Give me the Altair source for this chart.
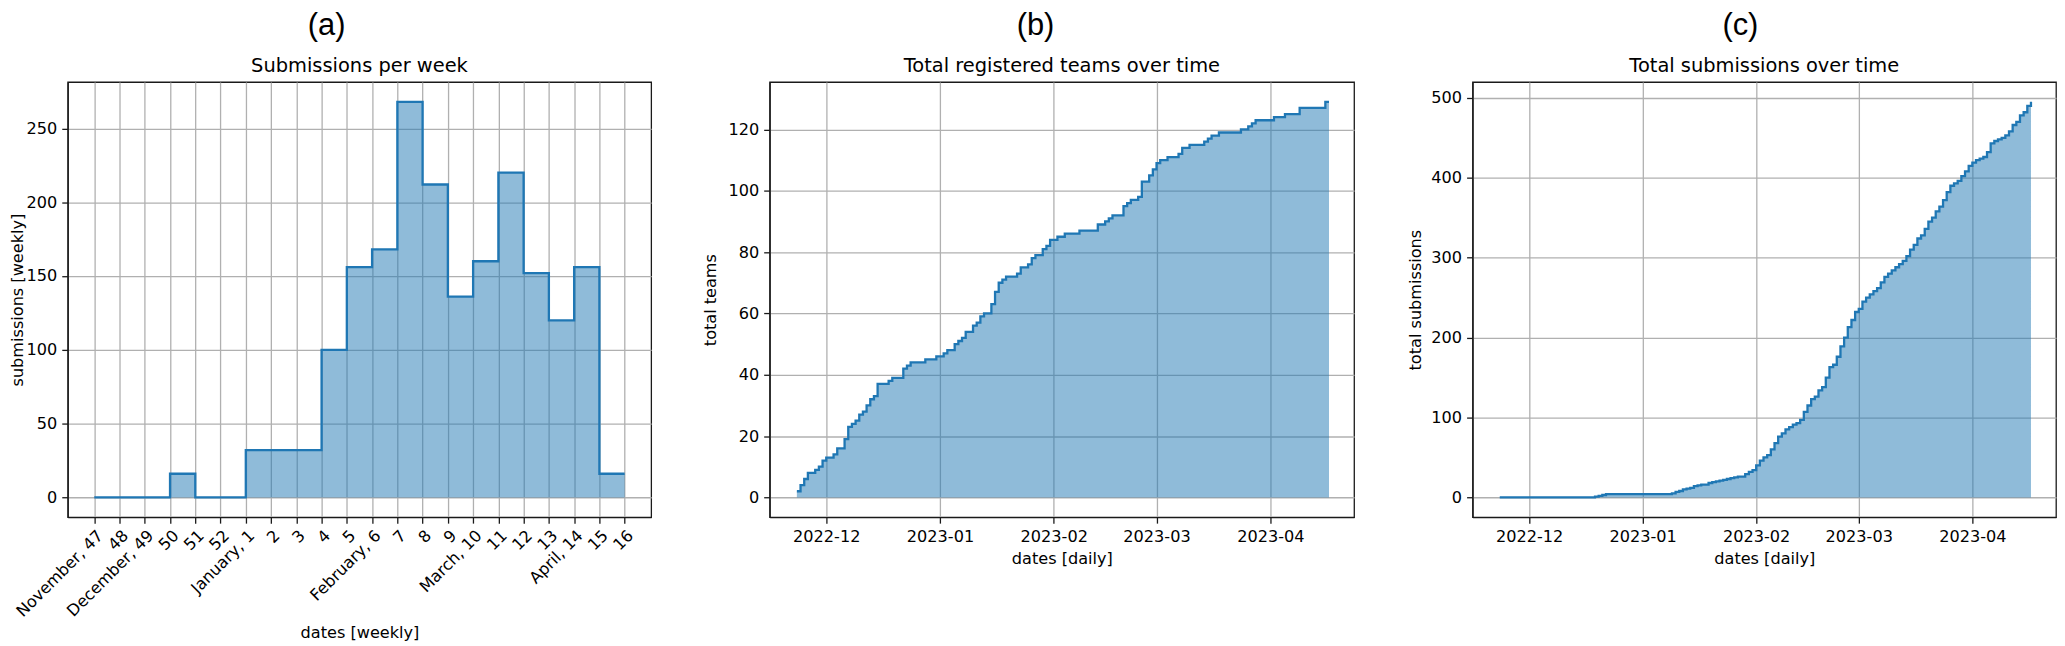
import json
import altair as alt
import pandas as pd

# ---------------- data ----------------
week_labels = ["November, 47", "48", "December, 49", "50", "51", "52", "January, 1", "2", "3", "4",
               "5", "February, 6", "7", "8", "9", "March, 10", "11", "12", "13", "April, 14", "15", "16"]
weekly_submissions = [0, 0, 0, 16, 0, 0, 32, 32, 32, 100, 156, 168, 268, 212, 136, 160, 220, 152, 120, 156, 16]

team_dates = ["2022-11-23", "2022-11-24", "2022-11-25", "2022-11-26", "2022-11-28", "2022-11-29", "2022-11-30",
              "2022-12-01", "2022-12-03", "2022-12-04", "2022-12-06", "2022-12-07", "2022-12-08", "2022-12-09",
              "2022-12-10", "2022-12-11", "2022-12-12", "2022-12-13", "2022-12-14", "2022-12-15", "2022-12-18",
              "2022-12-19", "2022-12-22", "2022-12-23", "2022-12-24", "2022-12-28", "2022-12-31", "2023-01-02",
              "2023-01-03", "2023-01-05", "2023-01-06", "2023-01-07", "2023-01-08", "2023-01-10", "2023-01-11",
              "2023-01-12", "2023-01-13", "2023-01-15", "2023-01-16", "2023-01-17", "2023-01-18", "2023-01-19",
              "2023-01-22", "2023-01-23", "2023-01-25", "2023-01-26", "2023-01-27", "2023-01-29", "2023-01-30",
              "2023-01-31", "2023-02-02", "2023-02-04", "2023-02-08", "2023-02-13", "2023-02-15", "2023-02-16",
              "2023-02-17", "2023-02-20", "2023-02-21", "2023-02-22", "2023-02-24", "2023-02-25", "2023-02-27",
              "2023-02-28", "2023-03-01", "2023-03-02", "2023-03-04", "2023-03-07", "2023-03-08", "2023-03-10",
              "2023-03-14", "2023-03-15", "2023-03-16", "2023-03-18", "2023-03-24", "2023-03-26", "2023-03-27",
              "2023-03-28", "2023-04-02", "2023-04-05", "2023-04-09", "2023-04-16", "2023-04-17"]
team_totals = [2, 4, 6, 8, 9, 10, 12,
               13, 14, 16, 19, 23, 24, 25,
               27, 28, 30, 32, 33, 37, 38,
               39, 42, 43, 44, 45, 46, 47,
               48, 50, 51, 52, 54, 56, 57,
               59, 60, 63, 67, 70, 71, 72,
               73, 75, 76, 78, 79, 81, 82,
               84, 85, 86, 87, 89, 90, 91,
               92, 95, 96, 97, 98, 103, 105,
               107, 109, 110, 111, 112, 114, 115,
               116, 117, 118, 119, 120, 121, 122,
               123, 124, 125, 127, 129, 129]

sub_dates = ["2022-11-23", "2022-12-19", "2022-12-20", "2022-12-21", "2022-12-22", "2023-01-09", "2023-01-10",
             "2023-01-11", "2023-01-12", "2023-01-13", "2023-01-14", "2023-01-15", "2023-01-16", "2023-01-17",
             "2023-01-19", "2023-01-20", "2023-01-21", "2023-01-22", "2023-01-23", "2023-01-24", "2023-01-25",
             "2023-01-26", "2023-01-27", "2023-01-29", "2023-01-30", "2023-01-31", "2023-02-01", "2023-02-02",
             "2023-02-03", "2023-02-04", "2023-02-05", "2023-02-06", "2023-02-07", "2023-02-08", "2023-02-09",
             "2023-02-10", "2023-02-11", "2023-02-12", "2023-02-13", "2023-02-14", "2023-02-15", "2023-02-16",
             "2023-02-17", "2023-02-18", "2023-02-19", "2023-02-20", "2023-02-21", "2023-02-22", "2023-02-23",
             "2023-02-24", "2023-02-25", "2023-02-26", "2023-02-27", "2023-02-28", "2023-03-01", "2023-03-02",
             "2023-03-03", "2023-03-04", "2023-03-05", "2023-03-06", "2023-03-07", "2023-03-08", "2023-03-09",
             "2023-03-10", "2023-03-11", "2023-03-12", "2023-03-13", "2023-03-14", "2023-03-15", "2023-03-16",
             "2023-03-17", "2023-03-18", "2023-03-19", "2023-03-20", "2023-03-21", "2023-03-22", "2023-03-23",
             "2023-03-24", "2023-03-25", "2023-03-26", "2023-03-27", "2023-03-28", "2023-03-29", "2023-03-30",
             "2023-03-31", "2023-04-01", "2023-04-02", "2023-04-03", "2023-04-04", "2023-04-05", "2023-04-06",
             "2023-04-07", "2023-04-08", "2023-04-09", "2023-04-10", "2023-04-11", "2023-04-12", "2023-04-13",
             "2023-04-14", "2023-04-15", "2023-04-16", "2023-04-17"]
sub_totals = [0, 1, 2, 3, 4, 5, 7,
              8, 10, 11, 12, 14, 15, 16,
              18, 19, 20, 21, 22, 23, 24,
              25, 26, 29, 32, 34, 40, 46,
              50, 53, 60, 68, 76, 80, 85,
              88, 91, 93, 97, 107, 115, 123,
              126, 134, 138, 150, 163, 166, 176,
              189, 200, 213, 222, 232, 236, 245,
              250, 254, 258, 262, 269, 276, 280,
              284, 288, 292, 296, 302, 310, 316,
              324, 328, 336, 345, 350, 358, 364,
              372, 382, 390, 393, 396, 402, 408,
              415, 419, 422, 424, 426, 432, 443,
              446, 448, 450, 453, 458, 466, 470,
              478, 482, 490, 495]

month_ticks = [(2022, 12), (2023, 1), (2023, 2), (2023, 3), (2023, 4)]

# ---------------- style ----------------
BLUE = "#1f77b4"
FONT = "DejaVu Sans"
FS = 16.2
W_A, W_B, W_C, H = 586, 587, 586, 437

# ---------------- panel (a) ----------------
wk = pd.DataFrame({
    "pos": list(range(len(weekly_submissions) + 1)),
    "count": weekly_submissions + [weekly_submissions[-1]],
})
xa = alt.X("pos:Q",
           scale=alt.Scale(domain=[-1.05, len(week_labels) - 1 + 1.05], nice=False, zero=False),
           axis=alt.Axis(values=list(range(len(week_labels))),
                         labelExpr=f"{json.dumps(week_labels)}[datum.value]",
                         labelAngle=-45, labelAlign="right", labelBaseline="top",
                         labelPadding=4, title="dates [weekly]", titlePadding=5))
ya = alt.Y("count:Q", scale=alt.Scale(domain=[-13.4, 281.4], nice=False, zero=False),
           axis=alt.Axis(values=[0, 50, 100, 150, 200, 250], title="submissions [weekly]", titlePadding=1))


def panel(df, x, y, width, title, letter, letter_x):
    base = alt.Chart(df)
    area = base.mark_area(interpolate="step-after", color=BLUE, opacity=0.5).encode(x=x, y=y)
    line = base.mark_line(interpolate="step-after", color=BLUE, strokeWidth=2.3).encode(x=x, y=y)
    ttl = alt.Chart(alt.Data(values=[{"t": title}])).mark_text(
        font=FONT, fontSize=19.5, baseline="alphabetic", align="center", color="black"
    ).encode(x=alt.value(width / 2), y=alt.value(-10), text="t:N")
    let = alt.Chart(alt.Data(values=[{"t": letter}])).mark_text(
        font="Liberation Sans", fontSize=31, baseline="middle", align="center", color="black"
    ).encode(x=alt.value(letter_x), y=alt.value(-56), text="t:N")
    return alt.layer(area, line, ttl, let).properties(width=width, height=H)


chart_a = panel(wk, xa, ya, W_A, "Submissions per week", "(a)", 260)

# ---------------- panels (b) and (c) ----------------
def tdf(dates, vals):
    return pd.DataFrame({"date": [d + "T00:00:00" for d in dates], "total": vals})


def xdate():
    return alt.X("date:T",
                 scale=alt.Scale(domain=[alt.DateTime(year=2022, month=11, date=15, hours=14),
                                         alt.DateTime(year=2023, month=4, date=23, hours=20)], nice=False),
                 axis=alt.Axis(values=[alt.DateTime(year=yy, month=mm, date=1) for yy, mm in month_ticks],
                               format="%Y-%m", labelPadding=5, title="dates [daily]", titlePadding=6))


yb = alt.Y("total:Q", scale=alt.Scale(domain=[-6.45, 135.45], nice=False, zero=False),
           axis=alt.Axis(values=[0, 20, 40, 60, 80, 100, 120], title="total teams", titlePadding=9))
yc = alt.Y("total:Q", scale=alt.Scale(domain=[-24.75, 519.75], nice=False, zero=False),
           axis=alt.Axis(values=[0, 100, 200, 300, 400, 500], title="total submissions", titlePadding=7))

chart_b = panel(tdf(team_dates, team_totals), xdate(), yb, W_B, "Total registered teams over time", "(b)", 267)
chart_c = panel(tdf(sub_dates, sub_totals), xdate(), yc, W_C, "Total submissions over time", "(c)", 269)

chart = alt.hconcat(chart_a, chart_b, chart_c, spacing=119, bounds="flush").properties(
    padding={"left": 0, "top": 0, "right": 0, "bottom": 0}
).configure_view(
    stroke="#1a1a1a", strokeWidth=1.3
).configure_axis(
    grid=True, gridColor="#b0b0b0", gridWidth=1.3, gridOpacity=1,
    domainColor="#1a1a1a", domainWidth=1.3, tickColor="#1a1a1a", tickWidth=1.3, tickSize=6,
    labelFont=FONT, labelFontSize=FS, labelColor="black", labelFlush=False, labelOverlap=False,
    titleFont=FONT, titleFontSize=FS, titleFontWeight="normal", titleColor="black",
    zindex=1
).configure_axisY(labelPadding=5)

chart.save("out.html", embed_options={"renderer": "svg", "actions": False})
